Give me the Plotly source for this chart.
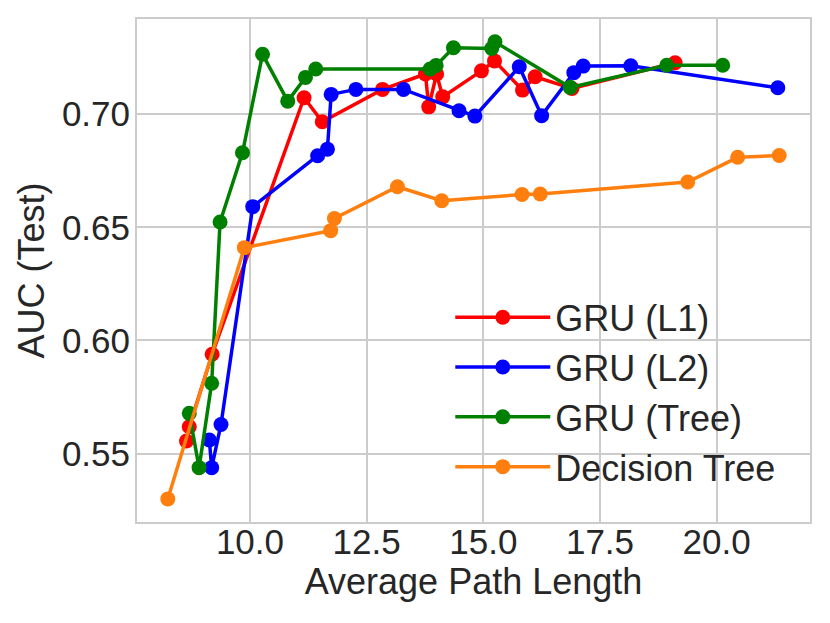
import plotly.graph_objects as go

# datos: longitud media de camino vs AUC en test
l1_len = [8.64, 8.70, 9.19, 11.16, 11.55, 12.84, 13.76, 13.83, 14.00, 14.13,
          14.96, 15.24, 15.84, 16.11, 16.90, 19.11]
l1_auc = [0.5556, 0.5619, 0.5939, 0.7072, 0.6966, 0.7109, 0.7177, 0.7032, 0.7177, 0.7076,
          0.7191, 0.7235, 0.7106, 0.7165, 0.7113, 0.7227]

l2_len = [9.13, 9.18, 9.38, 10.06, 11.45, 11.66, 11.74, 12.27, 13.29, 14.48,
          14.82, 15.77, 16.25, 16.94, 17.14, 18.16, 21.31]
l2_auc = [0.5560, 0.5438, 0.5629, 0.6591, 0.6816, 0.6845, 0.7087, 0.7109, 0.7109, 0.7015,
          0.6991, 0.7209, 0.6993, 0.7183, 0.7212, 0.7213, 0.7116]

tree_len = [8.70, 8.91, 9.18, 9.36, 9.84, 10.27, 10.81, 11.19, 11.41, 13.86,
            13.99, 14.36, 15.18, 15.25, 16.86, 18.93, 20.13]
tree_auc = [0.5678, 0.5438, 0.5811, 0.6523, 0.6829, 0.7264, 0.7057, 0.7162, 0.7199, 0.7199,
            0.7215, 0.7293, 0.7290, 0.7319, 0.7118, 0.7216, 0.7216]

dt_len = [8.24, 9.88, 11.73, 11.81, 13.16, 14.11, 15.83, 16.22, 19.38, 20.45, 21.34]
dt_auc = [0.5300, 0.6410, 0.6485, 0.6539, 0.6679, 0.6617, 0.6645, 0.6647, 0.6700, 0.6809, 0.6817]

x_ticks = [10.0, 12.5, 15.0, 17.5, 20.0]
y_ticks = [0.55, 0.60, 0.65, 0.70]

series = [
    ("GRU (L1)", l1_len, l1_auc, "#ff0000"),
    ("GRU (L2)", l2_len, l2_auc, "#0000ff"),
    ("GRU (Tree)", tree_len, tree_auc, "#008000"),
    ("Decision Tree", dt_len, dt_auc, "#ff7f0e"),
]

fuente = "Liberation Sans, Arial, DejaVu Sans, sans-serif"
gris = "#cccccc"

fig = go.Figure()
for nombre, xs, ys, col in series:
    fig.add_trace(go.Scatter(x=xs, y=ys, name=nombre, mode="lines+markers",
                             line=dict(color=col, width=3.5),
                             marker=dict(color=col, size=15)))

# la pagina deja 8px de margen en el body, por eso la figura es 8px mas chica
fig.update_layout(
    width=822, height=615,
    margin=dict(l=129, r=20, t=11, b=101),
    paper_bgcolor="white", plot_bgcolor="white",
    font=dict(family=fuente, size=35, color="#262626"),
    showlegend=True,
    legend=dict(x=0.4655, y=0.049, xanchor="left", yanchor="bottom",
                bgcolor="rgba(0,0,0,0)", itemwidth=95,
                font=dict(size=36)),
)

fig.update_xaxes(range=[7.58, 22.0], tickvals=x_ticks, tickformat=".1f",
                 showgrid=True, gridcolor=gris, gridwidth=2,
                 showline=True, linecolor=gris, linewidth=2, mirror=True,
                 zeroline=False, ticks="", ticklen=0, ticklabelstandoff=-12, automargin=False,
                 title=dict(text="Average Path Length", standoff=2, font=dict(size=36)))
fig.update_yaxes(range=[0.5198, 0.742], tickvals=y_ticks, tickformat=".2f",
                 showgrid=True, gridcolor=gris, gridwidth=2,
                 showline=True, linecolor=gris, linewidth=2, mirror=True,
                 zeroline=False, ticks="", ticklen=0, ticklabelstandoff=-2, automargin=False,
                 title=dict(text="AUC (Test)", standoff=6, font=dict(size=36)))

fig.write_html("out.html")
